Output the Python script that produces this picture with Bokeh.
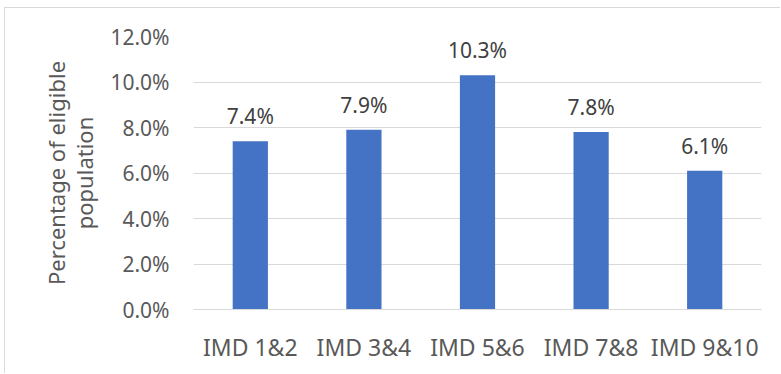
from bokeh.plotting import figure
from bokeh.models import (ColumnDataSource, FactorRange, Range1d, LabelSet,
                          SingleIntervalTicker, NumeralTickFormatter)
from bokeh.core.properties import value
from bokeh.embed import file_html
from bokeh.resources import INLINE

# Share of eligible population by IMD decile pair
categories = ["IMD 1&2", "IMD 3&4", "IMD 5&6", "IMD 7&8", "IMD 9&10"]
shares = [0.074, 0.079, 0.103, 0.078, 0.061]
value_labels = ["7.4%", "7.9%", "10.3%", "7.8%", "6.1%"]

FONT = "Noto Sans"
BAR = "#4472C4"
GRID = "#D9D9D9"
TEXT = "#595959"

src = ColumnDataSource(dict(cat=categories, val=shares, lab=value_labels))

# the chart sits inside a thin light frame (left and top edges visible)
p = figure(width=776, height=366, x_range=FactorRange(*categories),
           y_range=Range1d(0, 0.12), output_backend="svg", toolbar_location=None,
           min_border_left=188, min_border_right=20, min_border_top=28,
           min_border_bottom=65, margin=(7, 0, 0, 4),
           styles={"border-left": "1px solid #D9D9D9",
                   "border-top": "1px solid #D9D9D9"})
p.outline_line_color = None
p.background_fill_color = "white"
p.border_fill_color = "white"

p.vbar(x="cat", top="val", width=0.31, source=src, color=BAR, line_color=None)

p.add_layout(LabelSet(x="cat", y="val", text="lab", source=src, y_offset=17,
                      text_align="center", text_baseline="alphabetic",
                      text_font=value(FONT), text_font_size="21px",
                      text_color="#404040"))

p.xgrid.grid_line_color = None
p.ygrid.grid_line_color = GRID
p.ygrid.grid_line_width = 1

ya = p.yaxis[0]
ya.ticker = SingleIntervalTicker(interval=0.02)
ya.formatter = NumeralTickFormatter(format="0.0%")
ya.axis_line_color = None
ya.major_tick_line_color = None
ya.minor_tick_line_color = None
ya.major_label_standoff = 18
ya.major_label_text_font = FONT
ya.major_label_text_font_size = "21px"
ya.major_label_text_color = TEXT
ya.axis_label = "Percentage of eligible\npopulation"
ya.axis_label_text_font = FONT
ya.axis_label_text_font_size = "22px"
ya.axis_label_text_font_style = "normal"
ya.axis_label_text_color = TEXT
ya.axis_label_text_line_height = 0.93
ya.axis_label_standoff = 8

xa = p.xaxis[0]
xa.axis_line_color = GRID
xa.major_tick_line_color = None
xa.minor_tick_line_color = None
xa.major_label_standoff = 15
xa.major_label_text_font = FONT
xa.major_label_text_font_size = "23px"
xa.major_label_text_color = TEXT

open("out.html", "w").write(file_html(p, INLINE))
